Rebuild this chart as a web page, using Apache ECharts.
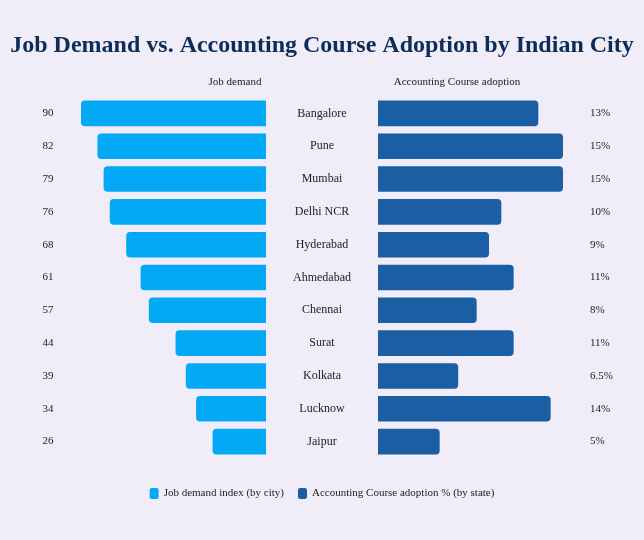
<!DOCTYPE html>
<html style="height:100%">
<head>
    <meta charset="UTF-8">
    <title>Job Demand vs. Accounting Course Adoption</title>
    <script src="https://cdn.jsdelivr.net/npm/echarts@6/dist/echarts.min.js"></script>
</head>
<body style="height:100%;margin:0;background:#f0ecf8">
<div id="main" style="width:644px;height:540px"></div>
<script>
    // data
    var cities = ['Bangalore', 'Pune', 'Mumbai', 'Delhi NCR', 'Hyderabad', 'Ahmedabad',
        'Chennai', 'Surat', 'Kolkata', 'Lucknow', 'Jaipur'];
    var jobDemand = [90, 82, 79, 76, 68, 61, 57, 44, 39, 34, 26];
    var adoption = [13, 15, 15, 10, 9, 11, 8, 11, 6.5, 14, 5];

    var serif = '"Liberation Serif", "DejaVu Serif", serif';
    var lightBlue = '#03a9f4';
    var darkBlue = '#1a5ea4';

    var chart = echarts.init(document.getElementById('main'), null, { renderer: 'canvas' });

    var option = {
        backgroundColor: '#f0ecf8',
        textStyle: { fontFamily: serif },
        title: [
            {
                text: 'Job Demand vs. Accounting Course Adoption by Indian City',
                left: 'center', top: 29,
                textStyle: { fontFamily: serif, fontSize: 24, fontWeight: 'bold', color: '#0c2d57' }
            },
            {
                text: 'Job demand', left: 230, top: 72, textAlign: 'center',
                textStyle: { fontFamily: serif, fontSize: 11, fontWeight: 'normal', color: '#222' }
            },
            {
                text: 'Accounting Course adoption', left: 452, top: 72, textAlign: 'center',
                textStyle: { fontFamily: serif, fontSize: 11, fontWeight: 'normal', color: '#222' }
            }
        ],
        legend: {
            bottom: 36, left: 'center',
            itemWidth: 9, itemHeight: 11, itemGap: 14,
            icon: 'roundRect',
            textStyle: { fontFamily: serif, fontSize: 11, color: '#222' },
            data: ['Job demand index (by city)', 'Accounting Course adoption % (by state)']
        },
        grid: [
            { left: 81, width: 185, top: 97, height: 361 },
            { left: 378, width: 185, top: 97, height: 361 }
        ],
        xAxis: [
            { gridIndex: 0, type: 'value', inverse: true, min: 0, max: 90, show: false },
            { gridIndex: 1, type: 'value', min: 0, max: 15, show: false }
        ],
        yAxis: [
            {
                gridIndex: 0, type: 'category', data: cities, inverse: true, position: 'left',
                axisLine: { show: false }, axisTick: { show: false },
                axisLabel: {
                    margin: 33, align: 'center', fontFamily: serif, fontSize: 11, color: '#222',
                    formatter: function (v, i) { return jobDemand[i]; }
                }
            },
            {
                gridIndex: 1, type: 'category', data: cities, inverse: true, position: 'left',
                axisLine: { show: false }, axisTick: { show: false },
                axisLabel: { margin: 56, align: 'center', fontFamily: serif, fontSize: 12, color: '#222' }
            },
            {
                gridIndex: 1, type: 'category', data: cities, inverse: true, position: 'right',
                axisLine: { show: false }, axisTick: { show: false },
                axisLabel: {
                    margin: 27, align: 'left', fontFamily: serif, fontSize: 11, color: '#222',
                    formatter: function (v, i) { return adoption[i] + '%'; }
                }
            }
        ],
        series: [
            {
                name: 'Job demand index (by city)',
                type: 'bar', xAxisIndex: 0, yAxisIndex: 0,
                data: jobDemand, barCategoryGap: '22%',
                itemStyle: { color: lightBlue, borderRadius: [4, 0, 0, 4] }
            },
            {
                name: 'Accounting Course adoption % (by state)',
                type: 'bar', xAxisIndex: 1, yAxisIndex: 1,
                data: adoption, barCategoryGap: '22%',
                itemStyle: { color: darkBlue, borderRadius: [0, 4, 4, 0] }
            }
        ]
    };
    chart.setOption(option);
</script>
</body>
</html>
